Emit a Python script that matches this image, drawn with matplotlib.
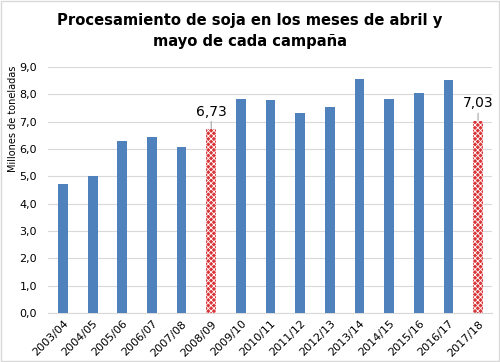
import matplotlib
matplotlib.use("Agg")
import matplotlib.pyplot as plt
import matplotlib.patches as mpatches

campaigns = ["2003/04", "2004/05", "2005/06", "2006/07", "2007/08", "2008/09", "2009/10",
             "2010/11", "2011/12", "2012/13", "2013/14", "2014/15", "2015/16", "2016/17", "2017/18"]
values = [4.72, 5.00, 6.30, 6.42, 6.08, 6.73, 7.83, 7.78, 7.32, 7.52, 8.55, 7.82, 8.05, 8.53, 7.03]
highlight = ["2008/09", "2017/18"]
yticks = [0, 1, 2, 3, 4, 5, 6, 7, 8, 9]

fig = plt.figure(figsize=(5.0, 3.62), dpi=100)
ax = fig.add_axes([0.096, 0.1354, 0.888, 0.6796])

blue = "#4f81bd"
red = "#d9363a"
x = list(range(len(campaigns)))
plt.rcParams["hatch.linewidth"] = 0.6
for i, (c, v) in enumerate(zip(campaigns, values)):
    if c in highlight:
        ax.bar(i, v, width=0.33, color=red, edgecolor="white", hatch="xxxxxx", linewidth=0, zorder=3)
        ax.annotate(f"{v:.2f}".replace(".", ","), xy=(i, v + 0.02), xytext=(i, v + 0.38),
                    ha="center", va="bottom", fontsize=10,
                    arrowprops=dict(arrowstyle="-", color="#a6a6a6", lw=0.8,
                                    shrinkA=0, shrinkB=0))
    else:
        ax.bar(i, v, width=0.33, color=blue, zorder=3)

ax.set_xlim(-0.506, 14.47)
ax.set_ylim(0, 9)
ax.set_yticks(yticks)
ax.set_yticklabels([f"{t:.1f}".replace(".", ",") for t in yticks], fontsize=8)
ax.set_xticks(x)
ax.set_xticklabels(campaigns, rotation=45, ha="right", rotation_mode="anchor", fontsize=8)
ax.tick_params(axis="both", length=0, pad=4)
ax.tick_params(axis="y", pad=8)
ax.grid(axis="y", color="#d9d9d9", linewidth=0.8, zorder=0)
for s in ["top", "right", "left"]:
    ax.spines[s].set_visible(False)
ax.spines["bottom"].set_color("#d9d9d9")
ax.set_ylabel("Millones de toneladas", fontsize=7)
ax.yaxis.set_label_coords(-0.068, 0.79)

fig.text(0.5, 0.965, "Procesamiento de soja en los meses de abril y\nmayo de cada campaña",
         ha="center", va="top", fontsize=11.8, fontweight="heavy", family="DejaVu Sans",
         fontstretch="condensed", linespacing=1.5)

fig.patches.append(mpatches.Rectangle((0.002, 0.003), 0.995, 0.994, transform=fig.transFigure,
                                      fill=False, edgecolor="#d9d9d9", linewidth=1))
fig.savefig("out.png", dpi=100)
